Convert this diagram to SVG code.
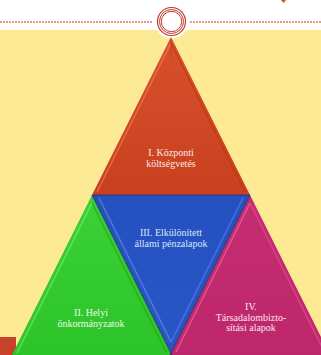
<svg xmlns="http://www.w3.org/2000/svg" width="321" height="355" viewBox="0 0 321 355">
<defs>
<style>
.lbl{font-family:"Liberation Serif","DejaVu Serif",serif;font-size:10px;text-anchor:middle}
.bev{fill:none;stroke-width:1.5;stroke-opacity:0.55}
.ring{fill:none;stroke:#c0392b}
.seam{stroke:#1c2f6e;stroke-width:1.2;stroke-opacity:0.7}
</style>
<linearGradient id="gR" x1="0" y1="0" x2="0" y2="1"><stop offset="0" stop-color="#d9502c"/><stop offset="1" stop-color="#c94020"/></linearGradient>
<linearGradient id="gG" x1="0" y1="0" x2="0" y2="1"><stop offset="0" stop-color="#3ad235"/><stop offset="1" stop-color="#2cc428"/></linearGradient>
<linearGradient id="gB" x1="0" y1="0" x2="0" y2="1"><stop offset="0" stop-color="#2450c0"/><stop offset="1" stop-color="#2a56c8"/></linearGradient>
<linearGradient id="gM" x1="0" y1="0" x2="0" y2="1"><stop offset="0" stop-color="#c62c72"/><stop offset="1" stop-color="#be276c"/></linearGradient>
</defs>
<rect x="0" y="0" width="321" height="355" fill="#ffffff"/>
<rect x="0" y="30" width="321" height="325" fill="#fbea93"/>
<rect x="0" y="337" width="16" height="18" fill="#c8412a"/>
<polygon points="281,0 286,0 283.5,3" fill="#d24a2a"/>
<line x1="0" y1="22" x2="153" y2="22" stroke="#c0392b" stroke-width="1" stroke-dasharray="2,1"/>
<line x1="190" y1="22" x2="321" y2="22" stroke="#c0392b" stroke-width="1" stroke-dasharray="2,1"/>
<g id="circle">
<circle cx="171.5" cy="21.5" r="17" fill="#ffffff"/>
<circle class="ring" cx="171.5" cy="21.5" r="14" stroke-width="1.2"/>
<circle class="ring" cx="171.5" cy="21.5" r="12" stroke-width="1"/>
<circle class="ring" cx="171.5" cy="21.5" r="10.2" stroke-width="1"/>
</g>
<g id="node-blue">
<polygon points="92,195 250,195 171,353" fill="url(#gB)"/>
<polyline class="bev" points="99,198 171,342" stroke="#6f9bf0"/>
<polyline class="bev" points="171,342 243,198" stroke="#5f8ae8"/>
<text class="lbl" x="171" y="236" fill="#dfe6f5">III. Elkülönített</text>
<text class="lbl" x="171" y="246.5" fill="#dfe6f5" font-size="9.5">állami pénzalapok</text>
</g>
<g id="node-red">
<polygon points="171,37 250,195 92,195" fill="url(#gR)"/>
<polyline class="bev" points="97,192 171,43" stroke="#f08a6a"/>
<polyline class="bev" points="171,43 245,192" stroke="#a83418"/>
<line x1="171" y1="40" x2="171" y2="60" stroke="#b73a1c" stroke-width="1" stroke-opacity="0.5"/>
<text class="lbl" x="171" y="156" fill="#f7ece6">I. Központi</text>
<text class="lbl" x="171" y="167" fill="#f7ece6">költségvetés</text>
</g>
<g id="node-green">
<polygon points="92,195 172,355 12,355" fill="url(#gG)"/>
<polyline class="bev" points="17,353 92,203" stroke="#8cf07e"/>
<polyline class="bev" points="92,203 166,352" stroke="#1f9a1c"/>
<text class="lbl" x="91" y="316" fill="#eef9ea">II. Helyi</text>
<text class="lbl" x="91" y="326.5" fill="#eef9ea">önkormányzatok</text>
</g>
<g id="node-magenta">
<polygon points="250,195 330,355 170,355" fill="url(#gM)"/>
<polyline class="bev" points="176,352 250,203" stroke="#f07ab2"/>
<polyline class="bev" points="250,203 325,353" stroke="#e35a9c"/>
<text class="lbl" x="251" y="310" fill="#f8e6ee">IV.</text>
<text class="lbl" x="251" y="320.5" fill="#f8e6ee">Társadalombizto-</text>
<text class="lbl" x="251" y="331" fill="#f8e6ee">sítási alapok</text>
</g>
<g id="connectors">
<line class="seam" x1="92" y1="195" x2="250" y2="195"/>
<line class="seam" x1="92" y1="195" x2="172" y2="355"/>
<line class="seam" x1="250" y1="195" x2="170" y2="355"/>
</g>
</svg>
